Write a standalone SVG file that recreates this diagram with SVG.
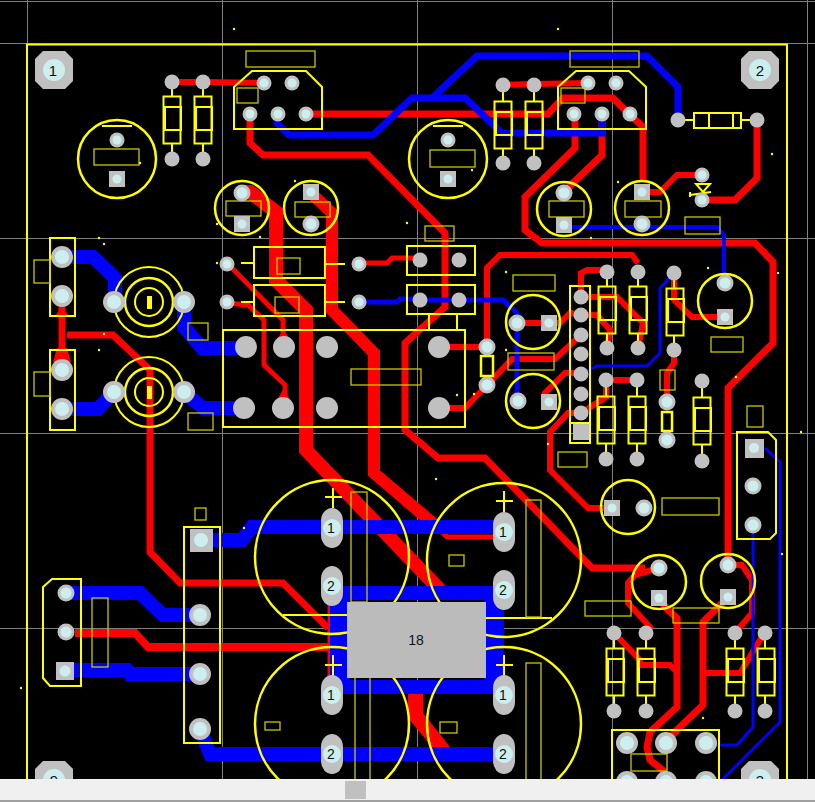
<svg xmlns="http://www.w3.org/2000/svg" width="815" height="802" viewBox="0 0 815 802">
<style>
.g{stroke:#808080;stroke-width:1;fill:none}
.r,.b{fill:none;stroke-linejoin:miter}
.r{stroke:#f00}
.b{stroke:#00f}
.w3{stroke-width:3}.w4{stroke-width:4}.w5{stroke-width:5}.w6{stroke-width:6}.w7{stroke-width:7}.w8{stroke-width:8}.w12{stroke-width:12}.w14{stroke-width:14}
.y{fill:none;stroke:#ff0;stroke-width:2}
.t{fill:none;stroke:#ff0;stroke-width:2.5}
.o{fill:none;stroke:#c8c800;stroke-width:1.3}
.p{fill:#c0c0c0}
.h{fill:#cdeeee}
.n{font-family:"Liberation Sans",Arial,sans-serif;font-size:14px;fill:#111;text-anchor:middle}
.d{fill:#ff0}
</style>
<defs>
<g id="gp"><circle class="p" r="7.500"/></g>
<g id="vp"><circle class="p" r="7.500"/><circle class="h" r="4.500"/></g>
<g id="vm"><circle class="p" r="8.500"/><circle class="h" r="5.500"/></g>
<g id="sq"><rect class="p" x="-8" y="-8" width="16" height="16"/><circle class="h" r="4.500"/></g>
<g id="bp"><circle class="p" r="11"/><circle class="h" r="7"/></g>
<g id="bg"><circle class="p" r="11"/></g>
<g id="ob"><rect class="p" x="-11" y="-20" width="22" height="40" rx="11" ry="13"/><circle class="h" r="9"/></g>
<g id="mh"><polygon class="p" points="-11,-19 11,-19 19,-11 19,11 11,19 -11,19 -19,11 -19,-11"/><circle class="h" r="11"/></g>
<g id="res"><rect class="y" x="-8.500" y="-23.500" width="17" height="47"/><rect class="y" x="-7" y="-13" width="16" height="23"/></g>
</defs>
<rect width="815" height="802" fill="#000"/>
<g id="grid">
<path class="g" d="M0 1.500H815M0 43.500H815M0 238.500H815M0 433.500H815M0 628.500H815M27.500 0V802M222.500 0V802M417.500 0V802M612.500 0V802M807.500 0V802"/>
</g>
<g id="connectors">
<g id="red">
<path class="r w6" d="M172 82H203L264 83"/>
<path class="r w6" d="M503 85L534 84L588 83"/>
<path class="r w7" d="M306 114H548L563 98H613L630 115L643 127V182"/>
<path class="r w7" d="M250 114V143L263 155H368L445 233V307L405 343V430L438 458H485L592 568H645"/>
<path class="r" stroke-width="14" d="M242 192H250L276 212V280L306 310V450L440 590"/>
<path class="r w12" d="M311 193L332 213V310L374 353V473L435 525"/>
<path class="r w5" d="M435 525L447 537H495"/>
<polygon fill="#f00" points="408,680 423,680 423,713 450,747 432,747 408,718"/>
<path class="r w7" d="M575 114V148L525 197V230L542 243H755L773 262V343L728 388V565"/>
<path class="r w7" d="M602 114V155L573 183L564 193"/>
<path class="r w6" d="M702 175H677L660 192H642"/>
<path class="r w7" d="M702 200H735L757 178V120"/>
<path class="r w7" d="M62 296V370"/>
<path class="r w7" d="M67 335H113L150 370V552L180 583H283L328 628"/>
<path class="r w8" d="M75 633H135L148 647H330"/>
<path class="r w5" d="M330 603V677"/>
<path class="r w5" d="M227 263L283 320V340"/>
<path class="r w5" d="M227 303L248 305L264 320V365L285 385V402"/>
<path class="r w5" d="M359 263H387L392 258H420"/>
<path class="r w6" d="M487 347V268L500 255H632L638 263"/>
<path class="r w6" d="M439 347H487"/>
<path class="r w6" d="M439 408H465L487 385L512 359H555L581 335"/>
<path class="r w6" d="M517 323H560L570 313L581 315"/>
<path class="r w6" d="M549 402L545 393L565 373H581"/>
<path class="r w6" d="M581 297H617L643 323L638 348"/>
<path class="r w6" d="M581 297V273L587 270H607"/>
<path class="r w6" d="M581 315H597L610 330L607 348"/>
<path class="r w6" d="M674 273V300L692 317H725"/>
<path class="r w6" d="M606 380H637"/>
<path class="r w6" d="M674 350V363L667 373V402"/>
<path class="r w6" d="M606 380V397L581 413H568L550 432V470L588 508H612"/>
<path class="r w6" d="M659 568L635 575L628 583V603L650 627L646 633"/>
<path class="r w6" d="M614 633L638 658L642 665H670L677 672"/>
<path class="r w7" d="M659 598L668 610L677 618V707L650 732L647 747L650 760L665 772"/>
<path class="r w7" d="M728 597L703 622V705L677 730L666 743"/>
<path class="r w6" d="M703 673H740L760 640L765 633"/>
<path class="r w6" d="M728 565H742L752 580V613L735 633"/>
<polygon fill="#f00" points="55,316 69,316 62,306"/>
<polygon fill="#f00" points="53,362 71,362 67,348 57,348"/>
<polygon fill="#f00" points="276,340 290,340 284,330"/>
<polygon fill="#f00" points="276,402 291,402 284,388"/>
</g>
<g id="blue">
<path class="b w7" d="M277 114V123L289 135H373L412 98H465L502 133H602V115"/>
<path class="b w7" d="M433 97L477 56H647L678 87V120"/>
<path class="b w4" d="M565 227H717L724 235V283"/>
<path class="b w14" d="M62 257H93L115 278V302"/>
<path class="b w14" d="M184 302V327L202 348H246"/>
<path class="b w14" d="M62 409H98L114 392"/>
<path class="b w14" d="M184 392L203 408H244"/>
<path class="b w5" d="M420 300H459"/>
<path class="b w5" d="M359 302H397L400 299H420"/>
<path class="b w5" d="M459 300H503L517 313V400"/>
<path class="b w3" d="M674 273L660 288V353L647 366H597L581 374"/>
<path class="b w14" d="M66 593H140L163 615H200"/>
<path class="b w14" d="M65 670H127L130 674H200"/>
<path class="b w14" d="M200 540H242L252 527H495"/>
<path class="b w14" d="M200 729L210 754H495"/>
<path class="b w14" d="M332 593H495"/>
<path class="b w14" d="M332 687H495"/>
<rect fill="#00f" x="330" y="593" width="20" height="95"/>
<rect fill="#00f" x="484" y="593" width="20" height="95"/>
<path class="b w3" d="M753 525V727L737 745H705"/>
<path class="b w3" d="M765 448L780 462V722L722 780"/>
</g>
</g>
<path id="board" fill="none" stroke="#ff0" stroke-width="2" d="M27 802V44.500H787V802"/>
<g id="U1"><polygon class="y" points="234,129 234,87 252,71 306,71 322,87 322,129"/><rect class="o" x="246" y="51" width="69" height="16"/><rect class="o" x="237" y="88" width="21" height="15"/><use href="#vp" x="264" y="83"/><use href="#vp" x="292" y="83"/><use href="#vp" x="250" y="114"/><use href="#vp" x="278" y="114"/><use href="#vp" x="306" y="114"/></g>
<g id="U2"><polygon class="y" points="558,129 558,87 576,71 629,71 646,87 646,129"/><rect class="o" x="570" y="51" width="69" height="16"/><rect class="o" x="561" y="88" width="24" height="15"/><use href="#vp" x="588" y="83"/><use href="#vp" x="616" y="83"/><use href="#vp" x="574" y="114"/><use href="#vp" x="602" y="114"/><use href="#vp" x="630" y="114"/></g>
<g id="resistors">
<path class="y" d="M172 82V96M172 144V159M203 82V96M203 144V159M503 85V101M503 149V163M534 85V101M534 149V163M607 272V286M607 334V348M638 272V286M638 334V348M674 273V288M674 336V350M606 380V396M606 444V459M637 380V396M637 444V459M702 381V397M702 445V461M614 633V648M614 696V711M646 633V648M646 696V711M735 633V648M735 696V711M765 633V648M765 696V711M678 120H694M741 120H757"/>
<use href="#res" x="172" y="120"/><use href="#res" x="203" y="120"/><use href="#res" x="503" y="125"/><use href="#res" x="534" y="125"/>
<use href="#res" x="607" y="310"/><use href="#res" x="638" y="310"/><use href="#res" x="675" y="312"/><use href="#res" x="606" y="420"/><use href="#res" x="637" y="420"/><use href="#res" x="702" y="421"/>
<use href="#res" x="615" y="672"/><use href="#res" x="646" y="672"/><use href="#res" x="735" y="672"/><use href="#res" x="766" y="672"/>
<rect class="y" x="694" y="113" width="47" height="15"/><path class="y" d="M709 113V128M733 113V128"/>
<use href="#gp" x="172" y="82"/><use href="#gp" x="203" y="82"/><use href="#gp" x="172" y="159"/><use href="#gp" x="203" y="159"/>
<use href="#gp" x="503" y="85"/><use href="#gp" x="534" y="85"/><use href="#gp" x="503" y="163"/><use href="#gp" x="534" y="163"/>
<use href="#gp" x="678" y="120"/><use href="#gp" x="757" y="120"/>
<use href="#gp" x="607" y="272"/><use href="#gp" x="638" y="272"/><use href="#gp" x="674" y="273"/><use href="#gp" x="607" y="348"/><use href="#gp" x="638" y="348"/><use href="#gp" x="674" y="350"/>
<use href="#gp" x="606" y="380"/><use href="#gp" x="637" y="380"/><use href="#gp" x="702" y="381"/><use href="#gp" x="606" y="459"/><use href="#gp" x="637" y="459"/><use href="#gp" x="702" y="461"/>
<use href="#gp" x="614" y="633"/><use href="#gp" x="646" y="633"/><use href="#gp" x="735" y="633"/><use href="#gp" x="765" y="633"/><use href="#gp" x="614" y="711"/><use href="#gp" x="646" y="711"/><use href="#gp" x="735" y="711"/><use href="#gp" x="765" y="711"/>
</g>
<g id="D1"><path class="y" d="M696 184H710L703 192ZM690 195L711 192M690 192V197"/><use href="#vp" x="702" y="175"/><use href="#vp" x="702" y="200"/></g>
<g id="caps">
<circle class="t" cx="117" cy="159" r="39"/><path class="y" d="M102 126H132"/><rect class="o" x="94" y="149" width="45" height="16"/><use href="#vp" x="117" y="140"/><use href="#sq" x="117" y="179"/>
<circle class="t" cx="448" cy="159" r="39"/><path class="y" d="M433 126H463"/><rect class="o" x="430" y="150" width="45" height="17"/><use href="#vp" x="448" y="140"/><use href="#sq" x="448" y="179"/>
<circle class="t" cx="242" cy="208" r="27"/><rect class="o" x="226" y="201" width="35" height="15"/><use href="#vm" x="242" y="193"/><use href="#sq" x="242" y="224"/>
<circle class="t" cx="311" cy="208" r="27"/><rect class="o" x="295" y="202" width="35" height="15"/><use href="#sq" x="311" y="192"/><use href="#vm" x="311" y="224"/>
<circle class="t" cx="564" cy="209" r="27"/><rect class="o" x="549" y="201" width="35" height="16"/><use href="#vm" x="564" y="193"/><use href="#sq" x="564" y="225"/>
<circle class="t" cx="642" cy="208" r="27"/><rect class="o" x="625" y="201" width="36" height="16"/><use href="#sq" x="642" y="192"/><use href="#vm" x="642" y="224"/>
<circle class="t" cx="533" cy="322" r="27"/><use href="#vm" x="517" y="323"/><use href="#sq" x="549" y="323"/>
<circle class="t" cx="533" cy="401" r="27"/><use href="#vm" x="518" y="401"/><use href="#sq" x="549" y="402"/>
<circle class="t" cx="725" cy="301" r="27"/><use href="#vm" x="725" y="283"/><use href="#sq" x="725" y="317"/>
<circle class="t" cx="628" cy="507" r="27"/><use href="#sq" x="612" y="508"/><use href="#vm" x="644" y="508"/>
<circle class="t" cx="659" cy="582" r="27"/><use href="#vm" x="659" y="568"/><use href="#sq" x="659" y="598"/>
<circle class="t" cx="728" cy="581" r="27"/><use href="#vm" x="728" y="565"/><use href="#sq" x="728" y="597"/>
</g>
<g id="J1"><rect class="y" x="50" y="238" width="25" height="78"/><rect class="o" x="34" y="260" width="16" height="23"/><use href="#bp" x="62" y="257"/><use href="#bp" x="62" y="296"/></g>
<g id="J2"><rect class="y" x="50" y="350" width="25" height="80"/><rect class="o" x="34" y="372" width="16" height="24"/><use href="#bp" x="62" y="370"/><use href="#bp" x="62" y="409"/></g>
<g id="P1"><circle class="y" cx="149" cy="302" r="35"/><circle class="t" cx="149" cy="302" r="24"/><circle class="y" cx="149" cy="302" r="14"/><rect x="147" y="296" width="5" height="13" fill="#ff0"/><use href="#bp" x="114" y="302"/><use href="#bp" x="184" y="302"/><rect class="o" x="188" y="323" width="20" height="17"/></g>
<g id="P2"><circle class="y" cx="149" cy="392" r="35"/><circle class="t" cx="149" cy="392" r="24"/><circle class="y" cx="149" cy="392" r="14"/><rect x="147" y="386" width="5" height="13" fill="#ff0"/><use href="#bp" x="114" y="392"/><use href="#bp" x="184" y="392"/><rect class="o" x="188" y="413" width="25" height="17"/></g>
<g id="K1"><rect class="y" x="223" y="330" width="242" height="97"/><rect class="o" x="351" y="369" width="70" height="16"/><use href="#bg" x="246" y="347"/><use href="#bg" x="284" y="347"/><use href="#bg" x="327" y="347"/><use href="#bg" x="244" y="408"/><use href="#bg" x="283" y="408"/><use href="#bg" x="327" y="408"/><use href="#bg" x="439" y="347"/><use href="#bg" x="439" y="408"/></g>
<g id="C3"><rect class="y" x="254" y="247" width="71" height="31"/><path class="y" d="M241 263H254M325 264H345"/><rect class="o" x="277" y="258" width="23" height="16"/><use href="#vp" x="227" y="264"/><use href="#vp" x="359" y="264"/></g>
<g id="C4"><rect class="y" x="254" y="285" width="71" height="31"/><path class="y" d="M241 302H254M325 302H345"/><rect class="o" x="275" y="297" width="24" height="16"/><use href="#vp" x="227" y="302"/><use href="#vp" x="359" y="302"/></g>
<g id="J3"><rect class="y" x="407" y="246" width="68" height="29"/><rect class="y" x="407" y="285" width="68" height="29"/><path class="y" d="M429 315V330M457 315V330"/><rect class="o" x="425" y="226" width="29" height="15"/><use href="#gp" x="420" y="260"/><use href="#gp" x="459" y="260"/><use href="#gp" x="420" y="300"/><use href="#gp" x="459" y="300"/></g>
<g id="L1"><rect class="t" x="481" y="356" width="12" height="20"/><use href="#vm" x="487" y="347"/><use href="#vm" x="487" y="385"/></g>
<g id="L2"><rect class="t" x="662" y="412" width="10" height="19"/><use href="#vm" x="667" y="402"/><use href="#vm" x="667" y="440"/></g>
<g id="H1"><rect class="y" x="570" y="286" width="20" height="157"/><path class="y" d="M570 423H590"/>
<use href="#gp" x="581" y="297"/><use href="#gp" x="581" y="315"/><use href="#gp" x="581" y="335"/><use href="#gp" x="581" y="354"/><use href="#gp" x="581" y="374"/><use href="#gp" x="581" y="394"/><use href="#gp" x="581" y="413"/>
<rect class="p" x="573" y="424" width="16" height="16"/></g>
<g id="J5"><polygon class="y" points="737,432 768,432 776,440 776,533 770,539 737,539"/><rect class="p" x="745" y="439" width="19" height="19"/><circle class="h" cx="754" cy="448" r="5"/><use href="#vm" x="753" y="486"/><use href="#vm" x="753" y="525"/><rect class="o" x="747" y="406" width="16" height="21"/></g>
<g id="J6"><polygon class="y" points="43,587 52,579 81,579 81,686 50,686 43,678"/><rect class="o" x="92" y="598" width="16" height="69"/><use href="#vm" x="66" y="593"/><use href="#vm" x="66" y="632"/><rect class="p" x="56" y="662" width="18" height="18"/><circle class="h" cx="65" cy="671" r="5.500"/></g>
<g id="J7"><rect class="y" x="184" y="527" width="36" height="216"/><rect class="o" x="195" y="508" width="11" height="12"/><rect class="p" x="190" y="529" width="23" height="23"/><circle class="h" cx="201" cy="540" r="7"/><use href="#bp" x="200" y="615"/><use href="#bp" x="200" y="674"/><use href="#bp" x="200" y="729"/></g>
<g id="bigcaps">
<circle class="t" cx="332" cy="557" r="77"/><circle class="t" cx="504" cy="560" r="77"/><circle class="t" cx="332" cy="724" r="77"/><circle class="t" cx="504" cy="724" r="77"/>
<path class="y" d="M325 497H342M333 488V508M325 665H342M333 655V677M496 501H513M504 491V512M496 665H513M504 655V677M283 615H347M486 618H552"/>
<rect class="o" x="351" y="492" width="16" height="110"/><rect class="o" x="526" y="500" width="15" height="117"/><rect class="o" x="355" y="677" width="15" height="103"/><rect class="o" x="526" y="663" width="15" height="117"/>
<rect class="o" x="449" y="555" width="15" height="11"/><rect class="o" x="265" y="722" width="15" height="8"/><rect class="o" x="440" y="722" width="17" height="11"/>
<use href="#ob" x="332" y="528"/><text class="n" x="331" y="533">1</text>
<use href="#ob" x="332" y="586"/><text class="n" x="331" y="591">2</text>
<use href="#ob" x="332" y="695"/><text class="n" x="331" y="700">1</text>
<use href="#ob" x="332" y="754"/><text class="n" x="331" y="759">2</text>
<use href="#ob" x="504" y="532"/><text class="n" x="503" y="537">1</text>
<use href="#ob" x="504" y="590"/><text class="n" x="503" y="595">2</text>
<use href="#ob" x="504" y="695"/><text class="n" x="503" y="700">1</text>
<use href="#ob" x="504" y="754"/><text class="n" x="503" y="759">2</text>
</g>
<g id="U18"><rect x="347" y="602" width="139" height="76" fill="#bbb"/><text class="n" x="416" y="645">18</text></g>
<g id="J8"><rect class="y" x="612" y="730" width="107" height="60"/><rect class="o" x="631" y="754" width="36" height="17"/><use href="#bp" x="627" y="743"/><use href="#bp" x="666" y="743"/><use href="#bp" x="706" y="743"/><use href="#bp" x="627" y="782"/><use href="#bp" x="666" y="782"/><use href="#bp" x="706" y="782"/></g>
<g id="labels">
<rect class="o" x="513" y="275" width="42" height="16"/><rect class="o" x="508" y="353" width="46" height="17"/><rect class="o" x="711" y="337" width="32" height="15"/><rect class="o" x="660" y="370" width="15" height="20"/><rect class="o" x="558" y="452" width="29" height="15"/><rect class="o" x="662" y="498" width="57" height="17"/><rect class="o" x="585" y="601" width="46" height="15"/><rect class="o" x="673" y="608" width="46" height="15"/><rect class="o" x="685" y="217" width="35" height="17"/>
</g>
<g id="mounts">
<use href="#mh" x="54" y="70"/><text class="n" x="53" y="76" style="font-size:15px">1</text>
<use href="#mh" x="760" y="70"/><text class="n" x="760" y="76" style="font-size:15px">2</text>
<use href="#mh" x="54" y="780"/><text class="n" x="54" y="786" style="font-size:15px">9</text>
<use href="#mh" x="760" y="780"/><text class="n" x="760" y="786" style="font-size:15px">3</text>
</g>
<g id="dots" class="d">
<circle cx="234" cy="29" r="1.200"/><circle cx="558" cy="29" r="1.200"/><circle cx="140" cy="163" r="1.200"/><circle cx="772" cy="154" r="1.200"/><circle cx="295" cy="181" r="1.200"/><circle cx="217" cy="224" r="1.200"/><circle cx="260" cy="237" r="1.200"/><circle cx="99" cy="238" r="1.200"/><circle cx="104" cy="244" r="1.200"/><circle cx="506" cy="272" r="1.200"/><circle cx="708" cy="268" r="1.200"/><circle cx="778" cy="273" r="1.200"/><circle cx="736" cy="377" r="1.200"/><circle cx="801" cy="432" r="1.200"/><circle cx="548" cy="444" r="1.200"/><circle cx="436" cy="479" r="1.200"/><circle cx="457" cy="395" r="1.200"/><circle cx="474" cy="394" r="1.200"/><circle cx="506" cy="350" r="1.200"/><circle cx="703" cy="718" r="1.200"/><circle cx="782" cy="554" r="1.200"/><circle cx="21" cy="688" r="1.200"/><circle cx="244" cy="528" r="1.200"/><circle cx="104" cy="334" r="1.200"/><circle cx="99" cy="350" r="1.200"/><circle cx="217" cy="263" r="1.200"/><circle cx="618" cy="182" r="1.200"/><circle cx="591" cy="238" r="1.200"/><circle cx="407" cy="223" r="1.200"/><circle cx="472" cy="170" r="1.200"/>
</g>
<g id="scrollbar"><rect y="779" width="815" height="23" fill="#f0f0f0"/><rect y="800" width="815" height="2" fill="#a0a0a0"/><rect x="345" y="781" width="21" height="18" fill="#c0c0c0"/></g>
</svg>
